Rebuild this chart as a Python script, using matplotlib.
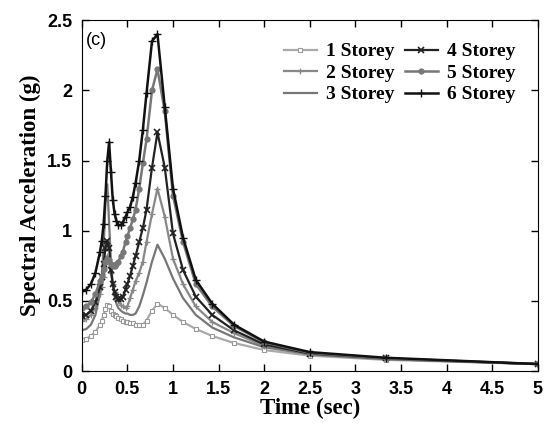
import matplotlib
matplotlib.use("Agg")
import matplotlib.pyplot as plt

# periods (sec)
period = [0.0, 0.05, 0.1, 0.15, 0.2, 0.22, 0.24, 0.26, 0.28, 0.30, 0.32, 0.34,
          0.36, 0.38, 0.40, 0.43, 0.45, 0.48, 0.50, 0.53, 0.56, 0.59, 0.63,
          0.67, 0.71, 0.77, 0.83, 0.91, 1.0, 1.11, 1.25, 1.43, 1.67, 2.0,
          2.5, 3.33, 5.0]

sa_1 = [0.22, 0.23, 0.25, 0.28, 0.33, 0.36, 0.40, 0.44, 0.47, 0.46, 0.43, 0.41,
        0.40, 0.39, 0.38, 0.37, 0.36, 0.35, 0.35, 0.34, 0.34, 0.33, 0.33,
        0.33, 0.36, 0.43, 0.48, 0.45, 0.40, 0.35, 0.30, 0.25, 0.20, 0.15,
        0.11, 0.08, 0.05]
sa_2 = [0.36, 0.37, 0.40, 0.45, 0.55, 0.60, 0.67, 0.76, 0.82, 0.80, 0.70, 0.62,
        0.56, 0.52, 0.50, 0.47, 0.46, 0.45, 0.46, 0.52, 0.58, 0.64, 0.70,
        0.78, 0.92, 1.12, 1.30, 1.10, 0.80, 0.62, 0.46, 0.35, 0.27, 0.18,
        0.12, 0.085, 0.05]
sa_3 = [0.29, 0.30, 0.33, 0.40, 0.55, 0.68, 0.88, 1.20, 1.33, 1.05, 0.78, 0.62,
        0.53, 0.48, 0.45, 0.43, 0.42, 0.41, 0.41, 0.40, 0.40, 0.41, 0.46,
        0.54, 0.63, 0.78, 0.90, 0.80, 0.66, 0.52, 0.40, 0.31, 0.24, 0.17,
        0.12, 0.085, 0.05]
sa_4 = [0.39, 0.40, 0.43, 0.49, 0.60, 0.67, 0.76, 0.88, 0.93, 0.88, 0.72, 0.62,
        0.56, 0.53, 0.51, 0.51, 0.53, 0.58, 0.62, 0.68, 0.75, 0.82, 0.92,
        1.02, 1.15, 1.45, 1.70, 1.45, 0.98, 0.72, 0.53, 0.40, 0.29, 0.19,
        0.125, 0.09, 0.05]
sa_5 = [0.45, 0.46, 0.49, 0.55, 0.64, 0.68, 0.73, 0.78, 0.80, 0.79, 0.76, 0.75,
        0.75, 0.76, 0.78, 0.82, 0.85, 0.92, 0.96, 1.02, 1.08, 1.15, 1.30,
        1.48, 1.65, 2.00, 2.15, 1.85, 1.25, 0.92, 0.62, 0.46, 0.32, 0.205,
        0.13, 0.09, 0.05]
sa_6 = [0.57, 0.58, 0.62, 0.70, 0.85, 0.93, 1.05, 1.25, 1.50, 1.63, 1.42, 1.22,
        1.12, 1.07, 1.04, 1.04, 1.06, 1.10, 1.13, 1.17, 1.24, 1.34, 1.50,
        1.72, 1.98, 2.35, 2.40, 1.88, 1.30, 0.95, 0.65, 0.48, 0.33, 0.21,
        0.135, 0.095, 0.05]

labels = ["1 Storey", "2 Storey", "3 Storey", "4 Storey", "5 Storey", "6 Storey"]

fig = plt.figure(figsize=(5.45, 4.28), dpi=100)
ax = fig.add_axes([0.150, 0.133, 0.837, 0.820])

ax.plot(period, sa_1, color="#aaaaaa", lw=1.6, marker="s", ms=2.5, mfc="white",
        mec="#999999", mew=0.8, label=labels[0])
ax.plot(period, sa_2, color="#888888", lw=1.6, marker="+", ms=5, mew=0.9,
        label=labels[1])
ax.plot(period, sa_3, color="#777777", lw=1.6, label=labels[2])
ax.plot(period, sa_4, color="#222222", lw=1.6, marker="x", ms=4, mew=1.2,
        label=labels[3])
ax.plot(period, sa_5, color="#777777", lw=1.8, marker="o", ms=3.5,
        label=labels[4])
ax.plot(period, sa_6, color="#111111", lw=1.8, marker="+", ms=6, mew=1.0,
        label=labels[5])

ax.set_xlim(0, 5)
ax.set_ylim(0, 2.5)
ax.set_xticks([0, 0.5, 1, 1.5, 2, 2.5, 3, 3.5, 4, 4.5, 5])
ax.set_xticklabels(["0", "0.5", "1", "1.5", "2", "2.5", "3", "3.5", "4", "4.5", "5"])
ax.set_yticks([0, 0.5, 1, 1.5, 2, 2.5])
ax.set_yticklabels(["0", "0.5", "1", "1.5", "2", "2.5"])
ax.tick_params(direction="in", top=True, right=True, length=5, width=1, pad=7)
for lab in ax.get_xticklabels() + ax.get_yticklabels():
    lab.set_fontfamily("Liberation Sans")
    lab.set_fontweight("bold")
    lab.set_fontsize(13)

ax.set_xlabel("Time (sec)", fontfamily="Liberation Serif", fontweight="bold",
              fontsize=16.5, labelpad=0)
ax.set_ylabel("Spectral Acceleration (g)", fontfamily="Liberation Serif",
              fontweight="bold", fontsize=16.5, labelpad=4)
ax.text(0.05, 2.32, "(c)", fontfamily="Liberation Sans", fontsize=13)

leg = ax.legend(ncol=2, loc="upper right", frameon=False, handlelength=1.7,
                columnspacing=0.5, labelspacing=0.2, handletextpad=0.5,
                bbox_to_anchor=(0.99, 0.985),
                prop={"family": "Liberation Serif", "weight": "bold", "size": 14})

fig.savefig("out.png", dpi=100)
